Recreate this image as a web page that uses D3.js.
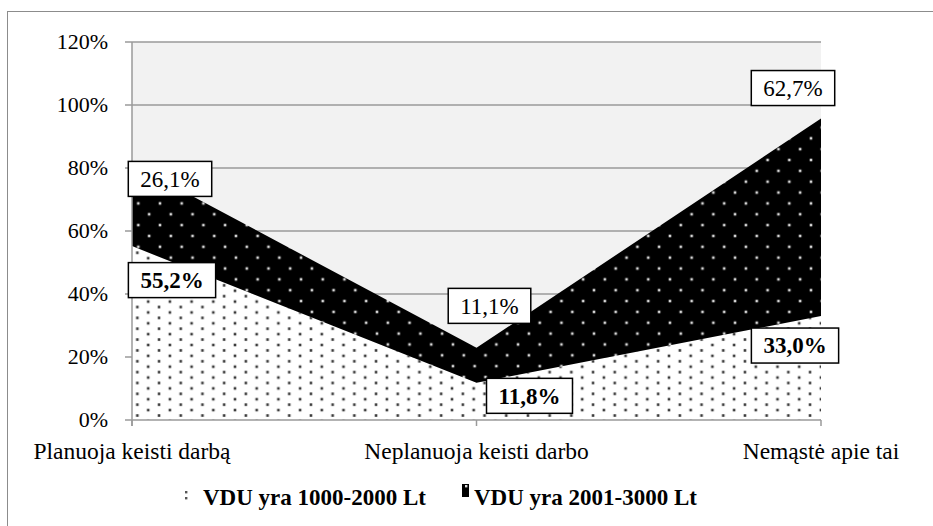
<!DOCTYPE html>
<html>
<head>
<meta charset="utf-8">
<script src="https://cdn.jsdelivr.net/npm/d3@7/dist/d3.min.js"></script>
<style>
  html, body { margin: 0; padding: 0; background: #fff; }
  svg { display: block; }
  svg text { font-family: 'Liberation Serif', 'Times New Roman', Times, 'DejaVu Serif', serif; }
</style>
</head>
<body>
<svg id="chart" width="933" height="526"></svg>
<script>
// ---- data ----
const categories = ["Planuoja keisti darbą", "Neplanuoja keisti darbo", "Nemąstė apie tai"];
const seriesNames = ["VDU yra 1000-2000 Lt", "VDU yra 2001-3000 Lt"];
const series1 = [55.2, 11.8, 33.0];   // VDU yra 1000-2000 Lt
const series2 = [26.1, 11.1, 62.7];   // VDU yra 2001-3000 Lt
const series1Labels = ["55,2%", "11,8%", "33,0%"];
const series2Labels = ["26,1%", "11,1%", "62,7%"];
const yTicks = [0, 20, 40, 60, 80, 100, 120];
const yTickLabels = ["0%", "20%", "40%", "60%", "80%", "100%", "120%"];

// ---- layout / style ----
const W = 933, H = 526;
const FONT = "'Liberation Serif', 'Times New Roman', Times, serif";
const plot = { left: 132, right: 821, top: 42, bottom: 420 };
const svg = d3.select("#chart").attr("font-family", FONT);

const x = d3.scalePoint().domain(categories).range([plot.left, plot.right]);
const y = d3.scaleLinear().domain([0, 120]).range([plot.bottom, plot.top]);

const rows = categories.map((c, i) => ({ cat: c, s1: series1[i], s2: series2[i] }));
const stacked = d3.stack().keys(["s1", "s2"])(rows);

// patterns
const defs = svg.append("defs");
const P = 21.7;
function makePattern(id, bg, dot, ox, oy, h, offY) {
  const p = defs.append("pattern").attr("id", id).attr("patternUnits", "userSpaceOnUse")
    .attr("width", P).attr("height", h).attr("x", ox).attr("y", oy);
  p.append("rect").attr("width", P).attr("height", h).attr("fill", bg);
  const d = 2.6;
  [[0, 0], [P / 2, offY], [P, 0], [0, h], [P, h]].forEach(([a, b]) => {
    p.append("rect").attr("x", a - d / 2).attr("y", b - d / 2).attr("width", d).attr("height", d).attr("fill", dot);
  });
}
makePattern("pat1", "#ffffff", "#3a3a3a", 213.3 % P, 366.7 % (P / 2), P / 2, P / 4);
makePattern("pat2", "#000000", "#d8d8d8", 138.3 % P, 181.7 % P, P, P / 2);

// outer frame (left & top visible)
svg.append("rect").attr("x", 7.5).attr("y", 11.5).attr("width", 1000).attr("height", 1000)
  .attr("fill", "none").attr("stroke", "#8c8c8c").attr("stroke-width", 1);

// plot background
svg.append("rect").attr("x", plot.left).attr("y", plot.top)
  .attr("width", plot.right - plot.left).attr("height", plot.bottom - plot.top)
  .attr("fill", "#f2f2f2");

// gridlines
svg.append("g").selectAll("line").data(yTicks.filter(t => t > 0)).join("line")
  .attr("x1", plot.left - 7).attr("x2", plot.right)
  .attr("y1", d => y(d)).attr("y2", d => y(d))
  .attr("stroke", "#9a9a9a").attr("stroke-width", 1.5);

// areas
const area = d3.area().x(d => x(d.data.cat)).y0(d => y(d[0])).y1(d => y(d[1]));
svg.append("g").selectAll("path").data(stacked).join("path")
  .attr("d", area)
  .attr("fill", (d, i) => i === 0 ? "url(#pat1)" : "url(#pat2)");

// axes
svg.append("line").attr("x1", plot.left).attr("x2", plot.left).attr("y1", plot.top).attr("y2", plot.bottom + 6)
  .attr("stroke", "#9a9a9a").attr("stroke-width", 1.5);
svg.append("line").attr("x1", plot.left - 7).attr("x2", plot.right).attr("y1", plot.bottom).attr("y2", plot.bottom)
  .attr("stroke", "#9a9a9a").attr("stroke-width", 1.5);
svg.append("g").selectAll("line").data(categories).join("line")
  .attr("x1", d => x(d)).attr("x2", d => x(d)).attr("y1", plot.bottom).attr("y2", plot.bottom + 6)
  .attr("stroke", "#9a9a9a").attr("stroke-width", 1.5);

// y tick labels
svg.append("g").selectAll("text").data(yTicks).join("text")
  .attr("font-family", FONT)
  .attr("x", 108).attr("y", d => y(d)).attr("dy", "0.34em")
  .attr("text-anchor", "end").attr("font-size", 22).attr("fill", "#000")
  .text((d, i) => yTickLabels[i]);

// x labels (kept inside chart area)
const xl = svg.append("g").selectAll("text").data(categories).join("text")
  .attr("font-family", FONT)
  .attr("x", d => x(d)).attr("y", 459).attr("text-anchor", "middle")
  .attr("font-size", 23.5).attr("fill", "#000").text(d => d);
xl.each(function () {
  const b = this.getBBox();
  let shift = 0;
  if (b.x < 27) shift = 27 - b.x;
  if (b.x + b.width > 905) shift = 905 - (b.x + b.width);
  d3.select(this).attr("x", +d3.select(this).attr("x") + shift);
});

// data labels
const labelOffsets1 = [[40, 34], [53, 13], [-26, 29.5]];
const labelOffsets2 = [[38, 15], [13, -42], [-28, -30.5]];
function drawLabel(cx, cy, txt, bold) {
  const g = svg.append("g");
  const t = g.append("text").attr("font-family", FONT).attr("x", cx).attr("y", cy).attr("dy", "0.34em")
    .attr("text-anchor", "middle").attr("font-size", 23)
    .attr("font-weight", bold ? "bold" : "normal").text(txt);
  const b = t.node().getBBox();
  g.insert("rect", "text").attr("x", cx - b.width / 2 - 12).attr("y", cy - 17.5)
    .attr("width", b.width + 24).attr("height", 35)
    .attr("fill", "#fff").attr("stroke", "#000").attr("stroke-width", 1.5);
}
stacked[1].forEach((d, i) => {
  drawLabel(x(d.data.cat) + labelOffsets2[i][0], y(d[1]) + labelOffsets2[i][1], series2Labels[i], false);
});
stacked[0].forEach((d, i) => {
  drawLabel(x(d.data.cat) + labelOffsets1[i][0], y(d[1]) + labelOffsets1[i][1], series1Labels[i], true);
});

// legend
const lg = svg.append("g");
// key 1: tiny dotted swatch
lg.append("rect").attr("x", 183).attr("y", 489).attr("width", 6).attr("height", 11).attr("fill", "#fff");
[[185, 491], [185, 497]].forEach(([a, b]) =>
  lg.append("rect").attr("x", a).attr("y", b).attr("width", 2.4).attr("height", 2.4).attr("fill", "#555"));
// key 2: black swatch with a white dot
lg.append("rect").attr("x", 462).attr("y", 484).attr("width", 7).attr("height", 13).attr("fill", "#000");
lg.append("rect").attr("x", 465).attr("y", 485).attr("width", 2.4).attr("height", 2.4).attr("fill", "#ddd");
[[seriesNames[0], 203], [seriesNames[1], 474]].forEach(([name, tx]) => {
  lg.append("text").attr("font-family", FONT).attr("x", tx).attr("y", 505)
    .attr("font-size", 23).attr("font-weight", "bold").text(name);
});
</script>
</body>
</html>
